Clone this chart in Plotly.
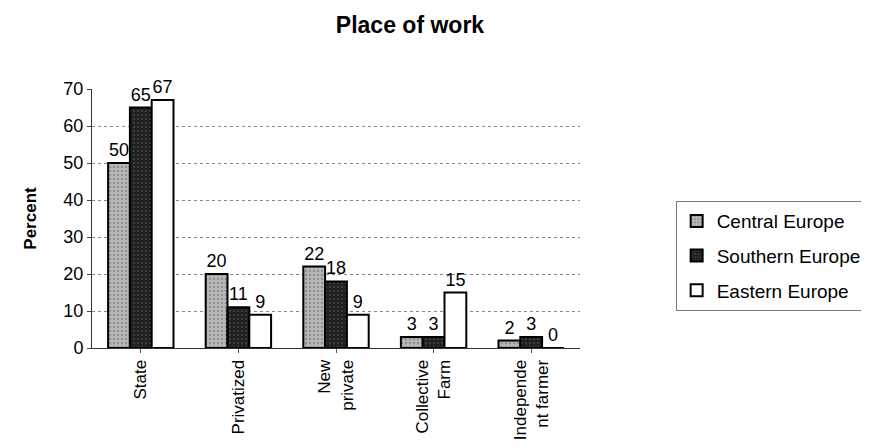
import plotly.graph_objects as go

categories = ["State", "Privatized", "New<br>private", "Collective<br>Farm", "Independe<br>nt farmer"]
series_names = ["Central Europe", "Southern Europe", "Eastern Europe"]
central = [50, 20, 22, 3, 2]
southern = [65, 11, 18, 3, 3]
eastern = [67, 9, 9, 15, 0]
y_ticks = [0, 10, 20, 30, 40, 50, 60, 70]

fills = [
    dict(color="#b0b0b0", pattern=dict(shape=".", fgcolor="#6a6a6a", bgcolor="#b8b8b8", size=4, solidity=0.35)),
    dict(color="#1e1e1e", pattern=dict(shape=".", fgcolor="#5a5a5a", bgcolor="#1e1e1e", size=4, solidity=0.3)),
    dict(color="#ffffff"),
]
font_family = "Liberation Sans, Arial, sans-serif"

fig = go.Figure()
for i, (name, vals, fill) in enumerate(zip(series_names, [central, southern, eastern], fills)):
    fig.add_trace(go.Bar(
        x=categories, y=vals, name=name, legendgroup=f"g{i}",
        marker=dict(**fill, line=dict(color="#000000", width=2)),
        text=[str(v) for v in vals], textposition="outside",
        textfont=dict(size=18, color="#000000", family=font_family),
        cliponaxis=False,
    ))

fig.update_layout(
    width=869, height=448,
    paper_bgcolor="white", plot_bgcolor="white",
    barmode="group", bargap=0.33, bargroupgap=0.0,
    margin=dict(l=84, r=297, t=81, b=108, autoexpand=False),
    font=dict(family=font_family, color="#000000"),
    title=dict(text="<b>Place of work</b>", x=0.4626, xanchor="center",
               y=0.962, yanchor="middle", font=dict(size=23, family=font_family)),
    showlegend=True,
    legend=dict(x=1.196, y=0.355, xanchor="left", yanchor="middle",
                bordercolor="#777777", borderwidth=1, itemwidth=30,
                font=dict(size=19, family=font_family), tracegroupgap=7),
    uniformtext=dict(minsize=18, mode="show"),
)
fig.update_xaxes(tickangle=-90, tickfont=dict(size=17), showline=True, linecolor="#333333",
                 linewidth=1, ticks="outside", ticklen=4, tickcolor="#555555")
fig.update_yaxes(range=[0, 70], tickvals=y_ticks, tickfont=dict(size=18), showgrid=True,
                 gridcolor="#888888", gridwidth=1, griddash="dot", showline=True,
                 linecolor="#333333", ticks="outside", ticklen=4, zeroline=False,
                 title=dict(text="<b>Percent</b>", font=dict(size=17), standoff=22))

fig.write_html("out.html")
